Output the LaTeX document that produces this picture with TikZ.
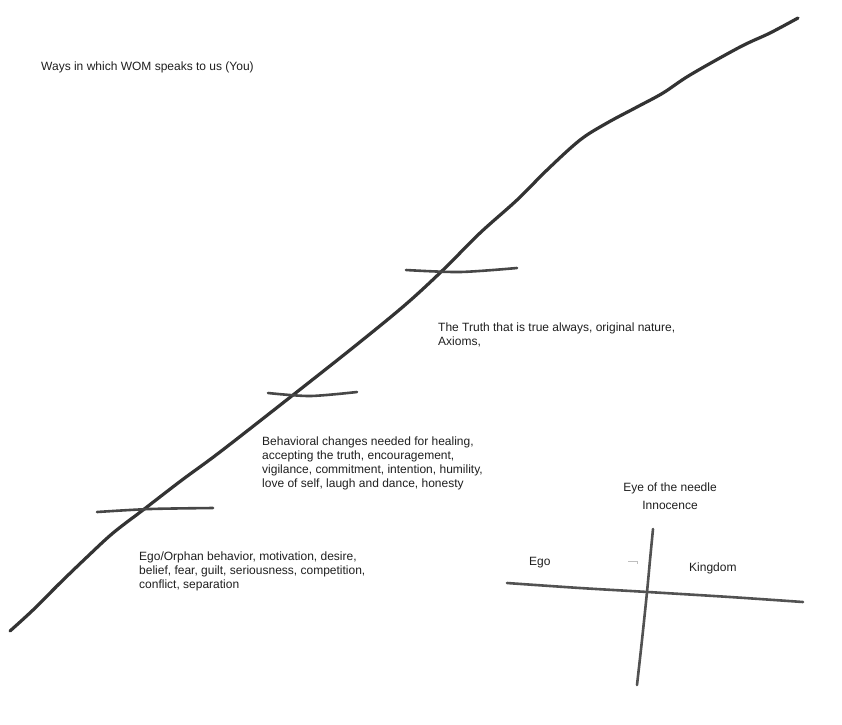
\documentclass[tikz,border=0pt]{standalone}
\usepackage{fontspec}
\setmainfont{Liberation Sans}
\begin{document}
\begin{tikzpicture}[x=1pt,y=-1pt,
  stroke/.style={line width=3.2pt,draw=black!80,line cap=round,line join=round},
  tick/.style={line width=2.6pt,draw=black!72,line cap=round},
  crossline/.style={line width=2.6pt,draw=black!68,line cap=round},
  txt/.style={anchor=north west,inner sep=0pt,align=left,font=\fontsize{12}{14}\selectfont,text=black!88},
  ctxt/.style={anchor=north,inner sep=0pt,align=center,font=\fontsize{12}{14}\selectfont,text=black!88}]
\useasboundingbox (0,0) rectangle (842,724);
% main line
\draw[stroke] plot[smooth,tension=0.55] coordinates {(10,631) (33,610) (60,583) (87,557) (113,533) (143,510) (182,480) (220,452) (293,395) (355,346) (405,305) (443,270) (480,233) (517,200) (547,170) (580,140) (607,123) (637,107) (663,93) (690,75) (740,47) (770,33) (798,18)};
% ticks
\draw[tick] plot[smooth] coordinates {(97,512) (150,509) (213,508)};
\draw[tick] plot[smooth] coordinates {(268,393) (310,396) (357,392)};
\draw[tick] plot[smooth] coordinates {(406,270) (460,272) (517,268)};
% cross
\draw[crossline] plot[smooth] coordinates {(507,583) (580,588) (648,592) (730,597) (803,602)};
\draw[crossline] plot[smooth] coordinates {(653,529) (650,560) (647,592) (642,640) (637,685)};
\draw[line width=0.6pt,draw=black!25] (628,561) -- (637,561) -- (637,564);
% texts
\node[txt] (title) at (41,62) {Ways in which WOM speaks to us (You)};
\node[txt] (truth) at (438,323) {The Truth that is true always, original nature,\\Axioms,};
\node[txt] (behav) at (262,437) {Behavioral changes needed for healing,\\accepting the truth, encouragement,\\vigilance, commitment, intention, humility,\\love of self, laugh and dance, honesty};
\node[txt] (egoo) at (139,552) {Ego/Orphan behavior, motivation, desire,\\belief, fear, guilt, seriousness, competition,\\conflict, separation};
\node[ctxt] (eye) at (670,483) {Eye of the needle};
\node[ctxt] (inno) at (670,501) {Innocence};
\node[txt] (ego) at (529,557) {Ego};
\node[txt] (king) at (689,563) {Kingdom};
\end{tikzpicture}
\end{document}
